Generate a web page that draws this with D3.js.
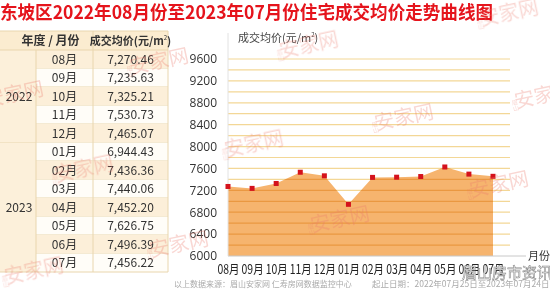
<!DOCTYPE html>
<html>
<head>
<meta charset="utf-8">
<script src="https://cdn.jsdelivr.net/npm/d3@7"></script>
<style>
  body { margin: 0; background: #fff; }
  svg { display: block; font-family: "Noto Sans CJK SC", "Noto Sans", sans-serif; }
</style>
</head>
<body>
<div id="chart"></div>
<script>
// data
var title = "东坡区2022年08月份至2023年07月份住宅成交均价走势曲线图";
var months = ["08月", "09月", "10月", "11月", "12月", "01月", "02月", "03月", "04月", "05月", "06月", "07月"];
var prices = [7270.46, 7235.63, 7325.21, 7530.73, 7465.07, 6944.43, 7436.36, 7440.06, 7452.20, 7626.75, 7496.39, 7456.22];
var years = [{ name: "2022", count: 5 }, { name: "2023", count: 7 }];
var yTicks = [6000, 6400, 6800, 7200, 7600, 8000, 8400, 8800, 9200, 9600];
var gridValues = d3.range(6000, 9601, 200);
var footSource = "以上数据来源：眉山安家网 仁寿房网数据监控中心";
var footDate = "起止日期：2022年07月25日至2023年07月24日";

var width = 550, height = 292;

var svg = d3.select("#chart").append("svg")
   .attr("width", width)
   .attr("height", height);

// title
svg.append("text")
   .attr("x", 0).attr("y", 19)
   .attr("textLength", 493).attr("lengthAdjust", "spacingAndGlyphs")
   .attr("font-size", 18.5).attr("font-weight", "bold")
   .attr("fill", "#e5141c")
   .text(title);

// ---------------- table ----------------
var t = { x0: 0, c1: 36, c2: 93, x1: 168, top: 31, head: 50, rowH: 18.5 };
var border = "#e9d6ae";
var tg = svg.append("g");

tg.append("rect").attr("x", t.x0).attr("y", t.top).attr("width", t.x1 - t.x0).attr("height", t.head - t.top)
   .attr("fill", "#fbecd0");

months.forEach(function(m, i) {
   var y0 = t.head + i * t.rowH;
   tg.append("rect").attr("x", t.c1).attr("y", y0).attr("width", t.x1 - t.c1).attr("height", t.rowH)
      .attr("fill", i % 2 === 0 ? "#fcefd9" : "#fffdf8");
   tg.append("text").attr("x", (t.c1 + t.c2) / 2).attr("y", y0 + t.rowH / 2 + 4.5)
      .attr("text-anchor", "middle").attr("font-size", 12).attr("fill", "#333").text(m);
   tg.append("text").attr("x", (t.c2 + t.x1) / 2).attr("y", y0 + t.rowH / 2 + 4.5)
      .attr("text-anchor", "middle").attr("font-size", 12).attr("fill", "#333")
      .text(d3.format(",.2f")(prices[i]));
   tg.append("line").attr("x1", t.c1).attr("x2", t.x1).attr("y1", y0 + t.rowH).attr("y2", y0 + t.rowH)
      .attr("stroke", border);
});

var yy = t.head;
years.forEach(function(yr) {
   var h = yr.count * t.rowH;
   tg.append("rect").attr("x", t.x0).attr("y", yy).attr("width", t.c1 - t.x0).attr("height", h)
      .attr("fill", "#fcf0da");
   tg.append("text").attr("x", (t.x0 + t.c1) / 2 + 1).attr("y", yy + h / 2 + 4.5)
      .attr("text-anchor", "middle").attr("font-size", 12).attr("fill", "#333").text(yr.name);
   yy += h;
   tg.append("line").attr("x1", t.x0).attr("x2", t.c1).attr("y1", yy).attr("y2", yy).attr("stroke", border);
});

var tBottom = t.head + months.length * t.rowH;
tg.append("line").attr("x1", t.x0).attr("x2", t.x1).attr("y1", t.top).attr("y2", t.top).attr("stroke", border);
tg.append("line").attr("x1", t.x0).attr("x2", t.x1).attr("y1", t.head).attr("y2", t.head).attr("stroke", border);
[t.c1, t.c2, t.x1].forEach(function(x) {
   tg.append("line").attr("x1", x).attr("x2", x)
      .attr("y1", x === t.c1 ? t.head : t.top).attr("y2", tBottom).attr("stroke", border);
});
tg.append("text").attr("x", (t.x0 + t.c2) / 2 + 4).attr("y", 45)
   .attr("text-anchor", "middle").attr("font-size", 12).attr("font-weight", "bold").attr("fill", "#333")
   .text("年度 / 月份");
var hd = tg.append("text").attr("x", (t.c2 + t.x1) / 2).attr("y", 45)
   .attr("text-anchor", "middle").attr("font-size", 11).attr("font-weight", "bold").attr("fill", "#333");
hd.append("tspan").text("成交均价(元/m");
hd.append("tspan").attr("font-size", 6).attr("dy", -5).attr("font-weight", "normal").text("2");
hd.append("tspan").attr("dy", 5).text(")");

// ---------------- chart ----------------
var x = d3.scalePoint().domain(months).range([228, 493]);
var y = d3.scaleLinear().domain([6000, 9600]).range([256, 59]);
var gridRight = 510, axisRight = 526;

var cg = svg.append("g");

// area
var area = d3.area()
   .x(function(d, i) { return x(months[i]); })
   .y0(y(6000))
   .y1(function(d) { return y(d); });
cg.append("path").datum(prices).attr("d", area).attr("fill", "#f6b46e");

// grid lines
cg.selectAll(".grid").data(gridValues.slice(1)).enter().append("line")
   .attr("x1", x.range()[0]).attr("x2", gridRight)
   .attr("y1", function(d) { return y(d); }).attr("y2", function(d) { return y(d); })
   .attr("stroke", "#f3d796").attr("stroke-width", 1.2)
   .style("mix-blend-mode", "multiply");

// axes lines
cg.append("line").attr("x1", x.range()[0]).attr("x2", axisRight).attr("y1", y(6000)).attr("y2", y(6000))
   .attr("stroke", "#c8c8c8");
cg.append("line").attr("x1", x.range()[0]).attr("x2", x.range()[0]).attr("y1", 33).attr("y2", y(6000))
   .attr("stroke", "#e2e2e2");

// y axis labels
var yAxis = d3.axisLeft(y).tickValues(yTicks).tickSize(0).tickPadding(0).tickFormat(d3.format("d"));
var ya = cg.append("g").attr("transform", "translate(217,0)").call(yAxis);
ya.select(".domain").remove();
ya.selectAll("text").attr("font-size", 12).attr("fill", "#333")
   .attr("font-family", "'Open Sans', 'Noto Sans', sans-serif");

// x axis labels
var xAxis = d3.axisBottom(x).tickSize(0).tickPadding(0);
var xa = cg.append("g").attr("transform", "translate(0,265)").call(xAxis);
xa.select(".domain").remove();
xa.selectAll("text").attr("font-size", 12.5).attr("fill", "#222")
   .attr("font-family", "'Noto Sans CJK SC', sans-serif")
   .attr("textLength", 22).attr("lengthAdjust", "spacingAndGlyphs");

// points
cg.selectAll(".pt").data(prices).enter().append("rect")
   .attr("x", function(d, i) { return x(months[i]) - 2.5; })
   .attr("y", function(d) { return y(d) - 2.5; })
   .attr("width", 5).attr("height", 5)
   .attr("fill", "#d4121c");

// axis titles
var yl = cg.append("text").attr("x", 238).attr("y", 42).attr("font-size", 11).attr("fill", "#444");
yl.append("tspan").text("成交均价(元/m");
yl.append("tspan").attr("font-size", 6).attr("dy", -5).text("2");
yl.append("tspan").attr("dy", 5).text(")");
cg.append("text").attr("x", 528).attr("y", 260).attr("font-size", 11).attr("fill", "#333").text("月份");

// footer
svg.append("text").attr("x", 174).attr("y", 287).attr("font-size", 8).attr("fill", "#aaa").text(footSource);
svg.append("text").attr("x", 372).attr("y", 287).attr("font-size", 8.5).attr("fill", "#aaa").text(footDate);

// watermarks
var marks = [[505, 14], [155, 62], [10, 95], [305, 46], [400, 118], [540, 96], [250, 145],
   [80, 170], [336, 220], [495, 185], [175, 245], [30, 272]];
var wg = svg.append("g").attr("opacity", 0.3);
marks.forEach(function(m) {
   var g = wg.append("g").attr("transform", "translate(" + m[0] + "," + m[1] + ") rotate(-12)");
   g.append("text").attr("x", -26).attr("y", -2).attr("font-size", 6).attr("fill", "#ec7a6c")
      .attr("writing-mode", "tb").text("眉山");
   g.append("text").attr("x", 4).attr("y", 7).attr("text-anchor", "middle").attr("font-size", 20)
      .attr("fill", "#ec7a6c").text("安家网");
});

// source overlay bottom right
svg.append("text").attr("x", 462).attr("y", 278).attr("font-size", 15)
   .attr("fill", "#fff").attr("stroke", "#8a8a8a").attr("stroke-width", 0.6)
   .text("眉山房市资讯");
</script>
</body>
</html>
